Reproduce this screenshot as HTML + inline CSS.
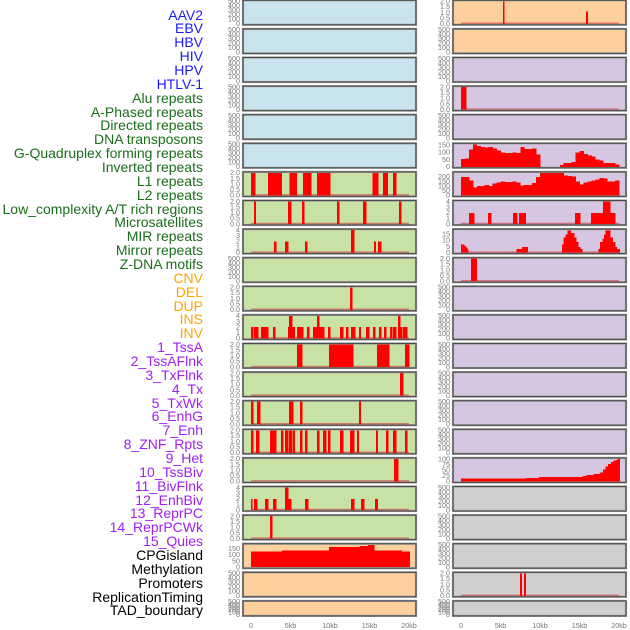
<!DOCTYPE html>
<html><head><meta charset="utf-8"><style>
html,body{margin:0;padding:0;background:#fff;}
#wrap{position:relative;width:630px;height:630px;overflow:hidden;font-family:"Liberation Sans",sans-serif;}
.lbl{position:absolute;right:427px;font-size:14px;line-height:14px;white-space:nowrap;}
</style></head><body>
<div id="wrap">
<div id="labels"></div>
<svg id="chart" width="630" height="630" style="position:absolute;left:0;top:0"></svg>
</div>
<script>
const trackNames = ["AAV2","EBV","HBV","HIV","HPV","HTLV-1","Alu repeats","A-Phased repeats","Directed repeats","DNA transposons","G-Quadruplex forming repeats","Inverted repeats","L1 repeats","L2 repeats","Low_complexity A/T rich regions","Microsatellites","MIR repeats","Mirror repeats","Z-DNA motifs","CNV","DEL","DUP","INS","INV","1_TssA","2_TssAFlnk","3_TxFlnk","4_Tx","5_TxWk","6_EnhG","7_Enh","8_ZNF_Rpts","9_Het","10_TssBiv","11_BivFlnk","12_EnhBiv","13_ReprPC","14_ReprPCWk","15_Quies","CPGisland","Methylation","Promoters","ReplicationTiming","TAD_boundary"];
const trackGroups = [0,0,0,0,0,0,1,1,1,1,1,1,1,1,1,1,1,1,1,2,2,2,2,2,3,3,3,3,3,3,3,3,3,3,3,3,3,3,3,4,4,4,4,4];
const xTickLabels = ["0","5kb","10kb","15kb","20kb"];
const xTickValues = [0,5,10,15,20];

const barsL6 = [[0,0.5,2],[2.15,3.9,2],[4.9,5.8,2],[6.6,7.6,2],[8.35,10.0,2],[15.4,16.1,2],[16.7,17.3,2],[18.0,18.35,2]];
const barsL7 = [[0.4,0.6,2],[4.7,5.05,2],[6.45,6.7,2],[10.9,11.15,2],[14.2,14.55,2],[18.75,19.0,2]];
const barsL8 = [[2.9,3.15,2],[4.3,4.7,2],[6.85,7.1,2],[12.65,13.05,4],[15.55,15.8,2],[16.05,16.45,2]];
const barsL10 = [[12.55,12.8,2]];
const barsL11 = [[0,0.25,2],[0.4,0.9,2],[1.25,2.15,2],[2.8,3.05,2],[4.7,5.55,2],[4.8,5.2,4],[5.8,6.6,2],[7.1,7.35,2],[7.85,9.25,2],[8.35,8.6,4],[9.75,10.0,2],[11.25,11.65,2],[12.0,12.3,2],[12.65,13.15,2],[13.65,13.9,2],[14.55,14.95,2],[15.45,15.7,2],[16.2,16.45,2],[16.85,17.1,2],[17.6,17.85,2],[18.0,18.35,2],[18.6,19.1,2],[18.6,18.85,4],[19.25,19.75,2]];
const barsL12 = [[5.8,6.45,2],[9.85,12.9,2],[15.95,17.45,2],[19.5,20.0,2]];
const barsL13 = [[18.85,19.25,2]];
const barsL14 = [[0,0.25,2],[0.75,1.15,2],[4.8,5.3,2],[6.2,6.45,2],[13.65,13.9,2]];
const barsL15 = [[0,0.25,2],[0.65,1.0,2],[2.4,3.15,2],[3.8,4.05,2],[4.3,4.7,2],[4.8,5.2,2],[5.3,5.55,2],[6.2,6.45,2],[6.85,7.1,2],[8.35,8.6,2],[9.1,9.5,2],[9.75,10.0,2],[11.25,11.65,2],[12.55,13.05,2],[13.4,13.65,2],[15.8,16.05,2],[17.1,17.35,2],[18.0,18.35,2],[19.5,19.75,2]];
const barsL16 = [[18.1,18.6,2]];
const barsL17 = [[0,0.15,2],[0.4,0.75,2],[1.8,2.15,2],[2.8,3.15,2],[4.3,4.7,4],[4.7,5.05,2],[6.85,7.2,2],[12.65,13.05,2],[13.9,14.3,2],[15.7,16.05,2]];
const barsL18 = [[2.4,2.65,2]];
const stepCpG = [[0,3.9,125],[3.9,9.9,132],[9.9,13.8,163],[13.8,14.8,170],[14.8,15.6,178],[15.6,19.1,133],[19.1,19.3,120],[19.3,20.1,125]];

const barsR0 = [[5.3,5.45,2],[15.8,16.05,1.1]];
const barsR3 = [[0,0.65,2]];
const g4Values = [55,58,120,154,143,139,134,139,128,113,100,96,97,100,94,138,125,124,126,85,0,0,0,0,0,13,28,28,34,100,111,90,79,70,50,45,28,28,28,17];
const l1Values = [200,197,160,85,100,100,110,100,130,140,150,143,145,148,140,105,110,110,135,200,240,240,240,240,240,240,215,210,203,150,115,140,150,160,172,187,180,150,152,158];
const barsR7 = [[1.0,1.65,2],[3.4,3.8,2],[6.6,7.1,2],[7.35,8.2,2],[14.45,15.05,2],[16.45,17.7,2],[17.7,17.95,2],[17.95,18.85,4],[18.85,19.5,2]];
const stepMIR = [[0,0.4,6.8],[0.4,0.6,5.5],[0.6,0.76,4],[0.76,0.9,2.6],[7.0,7.7,2.9],[7.7,8.45,4.5],[12.8,13.0,6.8],[13.0,13.25,12.6],[13.25,13.45,15],[13.45,13.9,18],[13.9,14.3,16.3],[14.3,14.55,12.6],[14.55,14.8,8.7],[14.8,15.05,4.7],[15.05,15.3,2.9],[17.4,17.6,2.9],[17.6,17.9,8.7],[17.9,18.1,11.3],[18.1,18.3,14.7],[18.3,18.85,18],[18.85,19.2,12.6],[19.2,19.5,8.7],[19.5,19.7,4.7],[19.7,20.1,2.9]];
const barsR9 = [[1.25,2.0,2]];
const stepHet = [[0,8.2,12],[8.2,9.9,16],[9.9,15.4,20],[15.4,15.9,25],[15.9,16.8,29],[16.8,17.6,34],[17.6,18.0,40],[18.0,18.3,54],[18.3,18.6,66],[18.6,19.0,78],[19.0,19.3,87],[19.3,19.6,93],[19.6,19.8,97],[19.8,20.1,100]];
const barsR20 = [[7.45,7.7,2],[7.95,8.2,2]];

const ticks2 = ["0.0","0.5","1.0","1.5","2.0"], ticks2v=[0,0.5,1,1.5,2];
const ticks4 = ["0","1","2","3","4"], ticks4v=[0,1,2,3,4];
const ticks500 = ["0","100","200","300","400","500"], ticks500v=[0,100,200,300,400,500];

const BLUE="#c9e4ec", GREEN="#c8e1a5", ORANGE="#fed09e", PURPLE="#d6c6e2", GRAY="#d0d0d0";
function empty(bg){return {bg:bg,type:"none",ymax:500,t:ticks500,tv:ticks500v};}
function bars(bg,d,four){return {bg:bg,type:"bars",d:d,ymax:four?4:2,t:four?ticks4:ticks2,tv:four?ticks4v:ticks2v,base:true};}
function binsToSeg(v){return v.map((y,i)=>[i*0.5,i*0.5+0.5,y]);}
const leftPanels=[empty(BLUE),empty(BLUE),empty(BLUE),empty(BLUE),empty(BLUE),empty(BLUE),
 bars(GREEN,barsL6),bars(GREEN,barsL7),bars(GREEN,barsL8,true),empty(GREEN),bars(GREEN,barsL10),bars(GREEN,barsL11,true),bars(GREEN,barsL12),bars(GREEN,barsL13),bars(GREEN,barsL14),bars(GREEN,barsL15),bars(GREEN,barsL16),bars(GREEN,barsL17,true),bars(GREEN,barsL18),
 {bg:ORANGE,type:"bars",d:stepCpG,ymax:180,t:["0","50","100","150"],tv:[0,50,100,150]},empty(ORANGE),empty(ORANGE)];
const rightPanels=[bars(ORANGE,barsR0),empty(ORANGE),empty(PURPLE),bars(PURPLE,barsR3),empty(PURPLE),
 {bg:PURPLE,type:"bars",d:binsToSeg(g4Values),ymax:156,t:["0","50","100","150"],tv:[0,50,100,150]},
 {bg:PURPLE,type:"bars",d:binsToSeg(l1Values),ymax:242,t:["0","50","100","150","200"],tv:[0,50,100,150,200]},
 bars(PURPLE,barsR7,true),
 {bg:PURPLE,type:"bars",d:stepMIR,ymax:18.5,t:["0","5","10","15"],tv:[0,5,10,15],base:true},
 bars(PURPLE,barsR9),empty(PURPLE),empty(PURPLE),empty(PURPLE),empty(PURPLE),empty(PURPLE),empty(PURPLE),
 {bg:PURPLE,type:"bars",d:stepHet,ymax:101,t:["0","25","50","75","100"],tv:[0,25,50,75,100]},
 empty(GRAY),empty(GRAY),empty(GRAY),bars(GRAY,barsR20),empty(GRAY)];

const NS="http://www.w3.org/2000/svg";
const svg=document.getElementById("chart");
function mk(tag,attrs,parent){const e=document.createElementNS(NS,tag);for(const k in attrs)e.setAttribute(k,attrs[k]);(parent||svg).appendChild(e);return e;}

const colors=["#1a1aff","#1a6e1a","#ffa500","#a020f0","#000000"];
const labDiv=document.getElementById("labels");
trackNames.forEach((n,i)=>{
  const d=document.createElement("div");
  d.className="lbl";d.textContent=n;
  d.style.top=(15+i*13.86-7.5)+"px";d.style.color=colors[trackGroups[i]];
  
  
  labDiv.appendChild(d);
});

function drawPanel(p,colLeft,row){
  const W=173, top=0.3+row*28.6, H=(row===21?15:24.5);
  const bottom=top+H;
  const xs=kb=>colLeft+8+kb*7.9;
  const ys=v=>bottom-1-v/p.ymax*(H-2);
  const g=mk("g",{});
  
  
  mk("rect",{x:colLeft,y:top,width:W,height:H,fill:p.bg,stroke:"#9a9a9a","stroke-width":2.2},g);
  mk("rect",{x:colLeft,y:top,width:W,height:H,fill:"none",stroke:"#4a4a4a","stroke-width":1},g);
  if(p.base){const l=mk("line",{x1:xs(0),x2:xs(20),y1:bottom-1.5,y2:bottom-1.5,stroke:"rgba(200,50,50,0.55)","stroke-width":1.5},g);
    }
  if(p.type==="bars"){
    p.d.forEach(b=>{
      const r=mk("rect",{x:xs(b[0]),y:ys(b[2]),width:Math.max(0.8,xs(b[1])-xs(b[0])+0.4),height:ys(0)-ys(b[2]),fill:"#ff0000","shape-rendering":"crispEdges"},g);
      
      
    });
  }
  p.t.forEach((t,i)=>{
    const y=(p.type==="none")? bottom-1-p.tv[i]/500*(H-2) : ys(p.tv[i]);
    const tx=mk("text",{x:colLeft-3,y:y+2.3,"font-size":7.2,fill:"#7a7a7a","text-anchor":"end","font-family":"Liberation Sans, sans-serif"},g);
    tx.textContent=t;
    
  });
}
leftPanels.forEach((p,i)=>drawPanel(p,243,i));
rightPanels.forEach((p,i)=>drawPanel(p,453,i));
[251,461].forEach(x0=>{
  xTickValues.forEach((v,i)=>{
    const t=mk("text",{x:x0+v*7.9,y:628,"font-size":7.2,fill:"#777","text-anchor":"middle","font-family":"Liberation Sans, sans-serif"});
    t.textContent=xTickLabels[i];
    
    
  });
});
</script>
</body></html>
